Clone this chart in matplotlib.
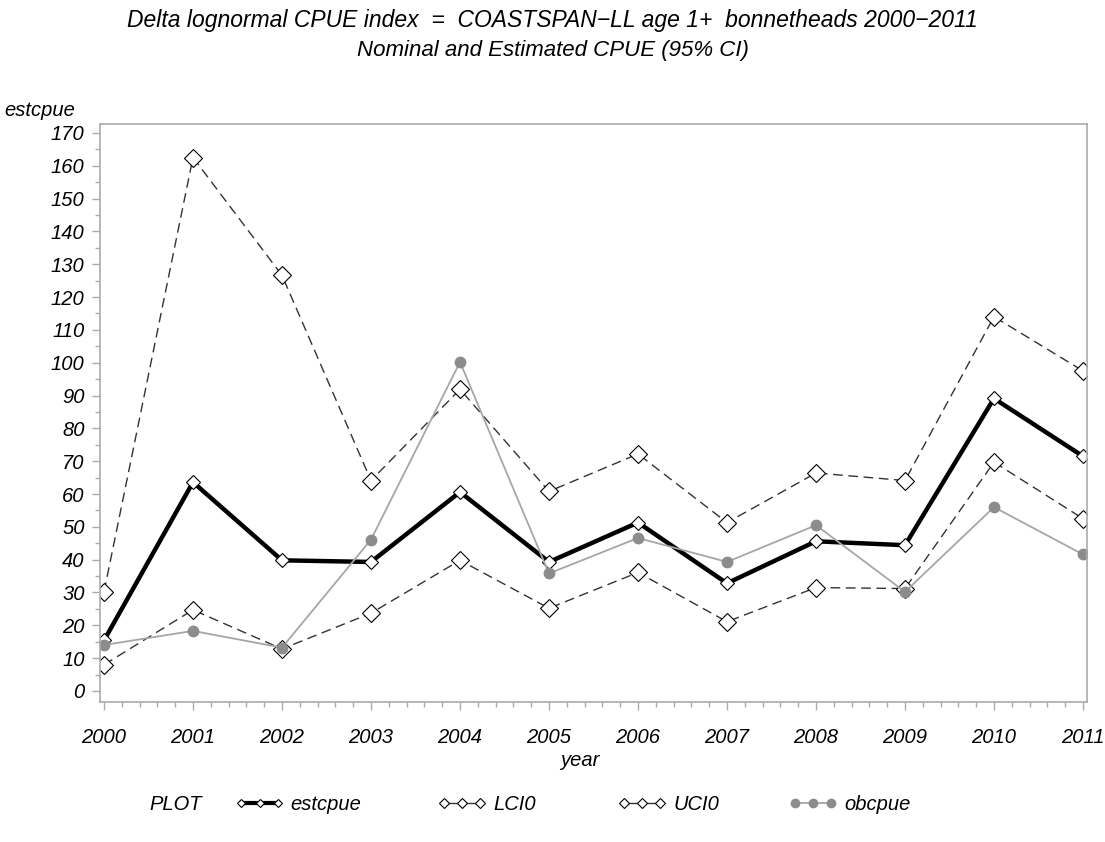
import matplotlib
matplotlib.use("Agg")
import matplotlib.pyplot as plt
from matplotlib.ticker import MultipleLocator
from matplotlib.lines import Line2D

# CPUE index, bonnetheads age 1+, COASTSPAN-LL
years = [2000, 2001, 2002, 2003, 2004, 2005, 2006, 2007, 2008, 2009, 2010, 2011]
estcpue = [15.4, 63.6, 39.8, 39.3, 60.6, 39.3, 51.3, 32.8, 45.6, 44.4, 89.1, 71.5]
lci0 = [8.0, 24.7, 12.8, 23.7, 39.8, 25.2, 36.1, 21.1, 31.5, 31.2, 69.7, 52.5]
uci0 = [30.2, 162.5, 126.6, 64.1, 91.9, 60.8, 72.2, 51.3, 66.4, 64.1, 114.0, 97.5]
obcpue = [14.0, 18.3, 13.2, 46.1, 100.2, 35.8, 46.6, 39.3, 50.5, 30.2, 56.0, 41.6]
series_names = ['estcpue', 'LCI0', 'UCI0', 'obcpue']

plt.rcParams['font.family'] = ['Liberation Sans', 'DejaVu Sans']
plt.rcParams['font.style'] = 'italic'

AXIS_GRAY = '#a7abb0'
DASH = (0, (7, 4))

fig = plt.figure(figsize=(11.05, 8.42), dpi=100)
ax = fig.add_axes([0.0905, 0.1663, 0.8932, 0.6864])

est_style = dict(color='black', lw=3.2, marker='D', ms=7, mfc='white', mec='black', mew=0.8)
ci_style = dict(color='#333333', lw=1.0, ls=DASH, marker='D', ms=9, mfc='white', mec='black', mew=0.8)
obs_style = dict(color='#a6a6a6', lw=1.3, marker='o', ms=7.5, mfc='#8c8c8c', mec='#8c8c8c')

ax.plot(years, estcpue, **est_style)
ax.plot(years, lci0, **ci_style)
ax.plot(years, uci0, **ci_style)
ax.plot(years, obcpue, **obs_style)

ax.set_xlim(1999.955, 2011.045)
ax.set_ylim(-3.35, 172.7)
ax.xaxis.set_major_locator(MultipleLocator(1))
ax.xaxis.set_minor_locator(MultipleLocator(0.2))
ax.yaxis.set_major_locator(MultipleLocator(10))
ax.yaxis.set_minor_locator(MultipleLocator(5))

for s in ax.spines.values():
    s.set_color(AXIS_GRAY)
    s.set_linewidth(1.2)
ax.tick_params(which='both', direction='out', color=AXIS_GRAY, width=1.0)
ax.tick_params(which='major', length=6)
ax.tick_params(which='minor', length=3.5)
ax.tick_params(axis='x', which='major', pad=13, labelsize=14.5)
ax.tick_params(axis='y', which='major', pad=5, labelsize=14.5)
for lab in ax.get_xticklabels() + ax.get_yticklabels():
    lab.set_style('italic')

fig.text(0.5, 0.976, "Delta lognormal CPUE index  =  COASTSPAN\u2212LL age 1+  bonnetheads 2000\u22122011",
         ha='center', va='center', fontsize=16.5, style='italic')
fig.text(0.5, 0.9406, "Nominal and Estimated CPUE (95% CI)",
         ha='center', va='center', fontsize=16, style='italic')
fig.text(0.004, 0.858, "estcpue", ha='left', va='bottom', fontsize=14.5, style='italic')
fig.text(0.525, 0.097, "year", ha='center', va='center', fontsize=14.5, style='italic')

# legend row along the bottom, one entry per series
fig.text(0.135, 0.044, "PLOT", ha='left', va='center', fontsize=14.5, style='italic')
handles = [Line2D([], [], **{**est_style, 'ms': 4.5, 'lw': 3.0}),
           Line2D([], [], **{**ci_style, 'ms': 5, 'ls': '-'}),
           Line2D([], [], **{**ci_style, 'ms': 5, 'ls': '-'}),
           Line2D([], [], **{**obs_style, 'ms': 6})]
entry_x = [0.213, 0.396, 0.559, 0.714]
for h, name, x0 in zip(handles, series_names, entry_x):
    leg = fig.legend([h], [name], loc='center left', bbox_to_anchor=(x0, 0.044),
                     frameon=False, numpoints=3, handlelength=2.4, handletextpad=0.35,
                     borderpad=0, borderaxespad=0, prop={'size': 14.5, 'style': 'italic'})

fig.savefig("out.png", dpi=100)
